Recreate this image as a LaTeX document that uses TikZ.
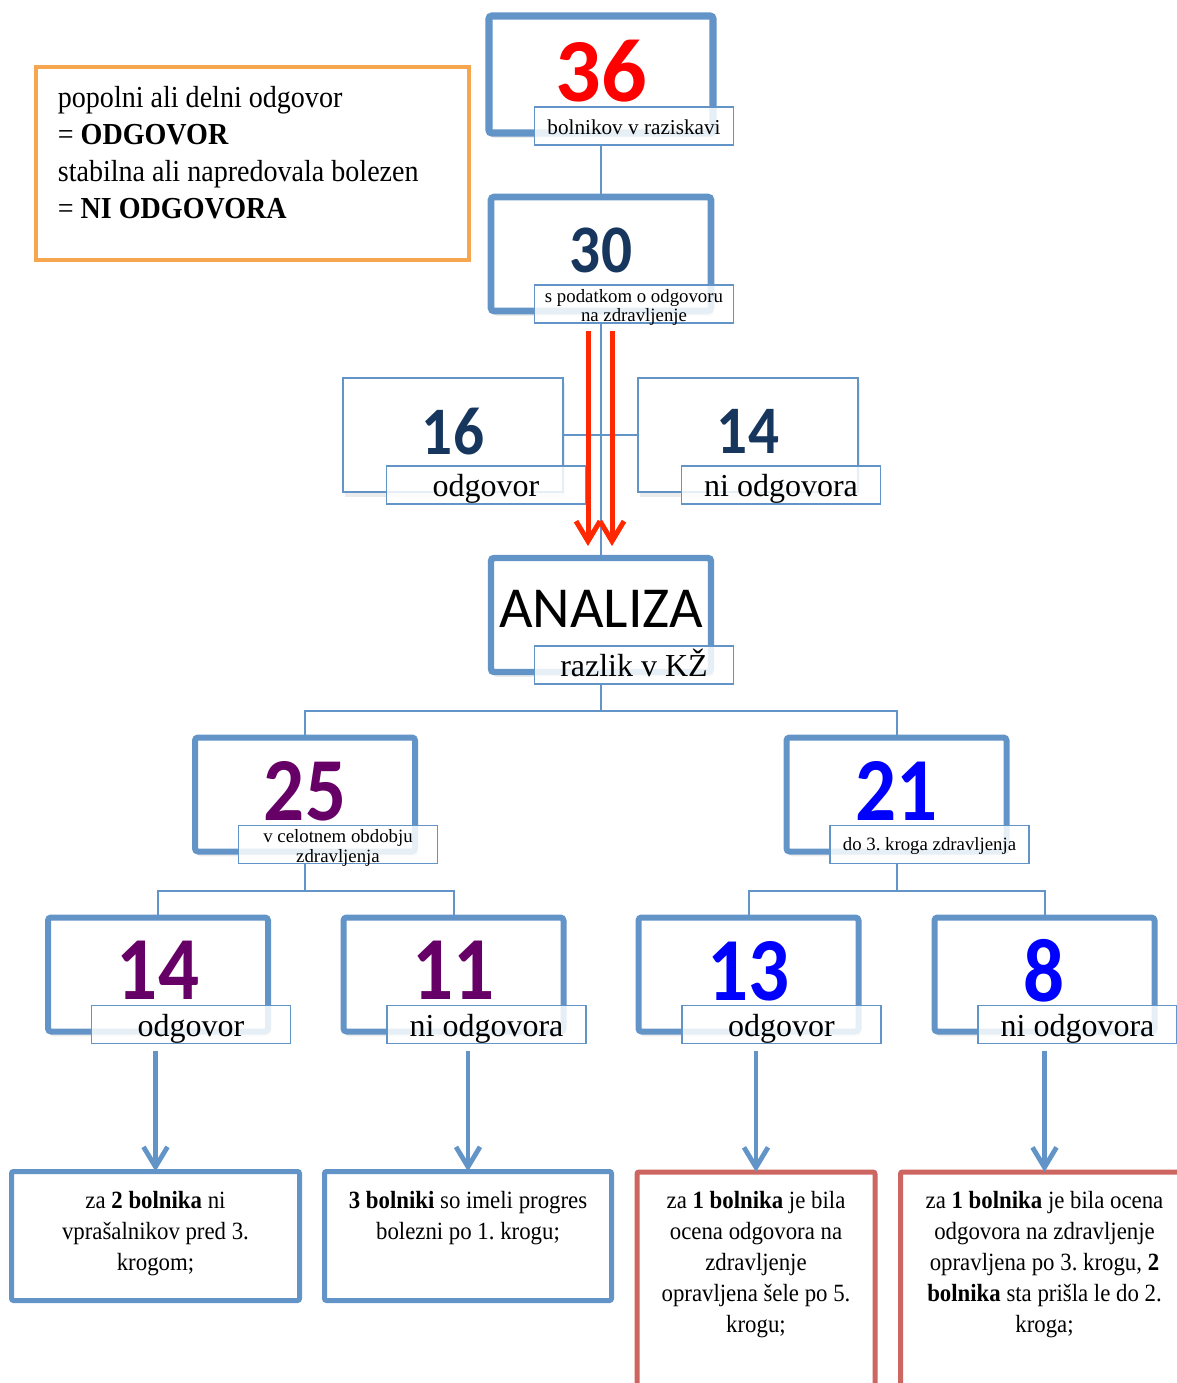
\documentclass[tikz,border=0pt]{standalone}
\usepackage{fontspec}
\setmainfont{Liberation Serif}
\newfontfamily\numfont{Carlito}
\newfontfamily\numfontc[FakeStretch=0.9]{Carlito}
\newfontfamily\condfont[FakeStretch=0.92]{Liberation Serif}
\usetikzlibrary{arrows.meta, calc, shadows}
\frenchspacing

\definecolor{boxblue}{RGB}{98,148,200}
\definecolor{numnavy}{RGB}{23,54,93}
\definecolor{numpurple}{RGB}{102,0,102}
\definecolor{numblue}{RGB}{0,0,255}
\definecolor{numred}{RGB}{255,0,0}
\definecolor{arrred}{RGB}{255,40,0}
\definecolor{legorange}{RGB}{247,166,80}
\definecolor{notered}{RGB}{205,102,96}

\newcommand\numhuge{\numfont\bfseries\fontsize{45}{45}\selectfont}
\newcommand\nummid{\numfontc\bfseries\fontsize{34}{34}\selectfont}
\newcommand\numbig{\numfontc\bfseries\fontsize{45}{45}\selectfont}

\begin{document}
\begin{tikzpicture}[
  x=0.5pt, y=-0.5pt,
  numbox/.style={draw=boxblue, line width=3.2pt, fill=white, rounded corners=1.5pt,
                 minimum width=110pt, minimum height=57pt, inner sep=0pt, outer sep=0pt,
                 text depth=4pt, font=\numbig,
                 drop shadow={opacity=0.15, shadow xshift=1.2pt, shadow yshift=-2.4pt}},
  thinbox/.style={numbox, line width=1.3pt, rounded corners=0pt, font=\nummid},
  lbl/.style={draw=boxblue, line width=0.8pt, fill=white, fill opacity=0.85, text opacity=1,
              minimum width=99.5pt, minimum height=19pt, inner sep=0pt, outer sep=0pt,
              align=center, text height=8.5pt, text depth=2.3pt,
              font=\fontsize{10.6}{11}\selectfont},
  biglbl/.style={lbl, text height=15pt, text depth=3.5pt, font=\fontsize{16}{16}\selectfont},
  smalllbl/.style={lbl, text height=17.5pt, text depth=0pt, font=\fontsize{9.4}{9.6}\selectfont},
  conn/.style={draw=boxblue, line width=1pt},
  redarr/.style={draw=arrred, line width=2.5pt, -{Straight Barb[length=10pt,width=12pt]}},
  bluearr/.style={draw=boxblue, line width=2.4pt, -{Straight Barb[length=10pt,width=12pt]}},
  notebox/.style={draw=#1, line width=2.5pt, rounded corners=1pt, fill=white,
                  minimum width=144pt, minimum height=64.5pt, outer sep=0pt},
  notetext/.style={anchor=north, inner sep=0pt, align=center,
                   font=\condfont\fontsize{12.4}{15.5}\selectfont},
  legend/.style={draw=legorange, line width=2pt, minimum width=216.5pt,
                 minimum height=96.5pt, outer sep=0pt},
  legendtext/.style={anchor=north west, inner sep=0pt, align=left,
                     font=\condfont\fontsize{15.25}{18.5}\selectfont},
]
\useasboundingbox (0,0) rectangle (1177,1383);
\clip (0,0) rectangle (1177,1383);
\fill[white] (0,0) rectangle (1177,1383);

% legend
\node[legend] (legend) at (252,163) {};
\node[legendtext] (legendtext) at ($(legend.north west)+(22,19)$)
  {popolni ali delni odgovor\\
   = \textbf{ODGOVOR}\\
   stabilna ali napredovala bolezen\\
   = \textbf{NI ODGOVORA}};

% top of the tree
\node[numbox, minimum width=112pt, minimum height=58.5pt, line width=3.6pt,
      font=\numhuge, text=numred] (n36) at (601,74.5) {36};
\node[lbl, text height=8pt, text depth=0pt] (l36) at ($(n36.south)+(33,-7)$) {bolnikov v raziskavi};

\node[numbox, line width=3.3pt, font=\nummid, text=numnavy] (n30) at (601,254) {30};
\node[smalllbl] (l30) at ($(n30.south)+(33,-7)$) {s podatkom o odgovoru\\na zdravljenje};

\draw[conn] (l36.south -| n36.south) -- (n30.north);
\draw[conn] (l30.south -| n30.south) -- (601,558);

\node[thinbox, text=numnavy] (n16) at (453,435) {16};
\node[biglbl] (l16) at ($(n16.south)+(33,-7)$) {odgovor};
\node[thinbox, text=numnavy] (n14a) at (748,435) {14};
\node[biglbl] (l14a) at ($(n14a.south)+(33,-7)$) {ni odgovora};
\draw[conn] (n16.east) -- (n14a.west);

\node[numbox, text depth=6pt, font=\numfont\fontsize{29}{29}\selectfont] (nA) at (601,615) {ANALIZA};
\node[biglbl] (lA) at ($(nA.south)+(33,-7)$) {razlik v KŽ};

\draw[redarr] ($(l30.south -| n30.south)+(-13,8)$) -- ($(nA.north)+(-13,-12)$);
\draw[redarr] ($(l30.south -| n30.south)+(11,8)$) -- ($(nA.north)+(11,-12)$);

% second level
\node[numbox, line width=3pt, text=numpurple] (n25) at (305,794.5) {25};
\node[smalllbl] (l25) at ($(n25.south)+(33,-7)$) {v celotnem obdobju\\zdravljenja};
\node[numbox, line width=3pt, text=numblue] (n21) at (896.5,794.5) {21};
\node[lbl, text height=8pt, text depth=2pt, font=\fontsize{9.4}{9.6}\selectfont] (l21)
  at ($(n21.south)+(33,-7)$) {do 3. kroga zdravljenja};

\draw[conn] (lA.south -| nA.south) -- ++(0,27) -| (n25.north);
\draw[conn] (lA.south -| nA.south) -- ++(0,27) -| (n21.north);

% third level
\node[numbox, line width=3pt, text=numpurple] (n14b) at (158,974.5) {14};
\node[biglbl] (l14b) at ($(n14b.south)+(33,-7)$) {odgovor};
\node[numbox, line width=3pt, text=numpurple] (n11) at (453.5,974.5) {11};
\node[biglbl] (l11) at ($(n11.south)+(33,-7)$) {ni odgovora};
\node[numbox, line width=3pt, text=numblue] (n13) at (748.5,974.5) {13};
\node[biglbl] (l13) at ($(n13.south)+(33,-7)$) {odgovor};
\node[numbox, line width=3pt, text=numblue] (n8) at (1044.5,974.5) {8};
\node[biglbl] (l8) at ($(n8.south)+(33,-7)$) {ni odgovora};

\draw[conn] (l25.south -| n25.south) -- ++(0,27) -| (n14b.north);
\draw[conn] (l25.south -| n25.south) -- ++(0,27) -| (n11.north);
\draw[conn] (l21.south -| n21.south) -- ++(0,27) -| (n13.north);
\draw[conn] (l21.south -| n21.south) -- ++(0,27) -| (n8.north);

% notes at the bottom
\node[notebox=boxblue] (b1) at (155.5,1236) {};
\node[notebox=boxblue, minimum width=143.5pt] (b2) at (468,1236) {};
\node[notebox=notered, minimum width=119pt, minimum height=130pt] (b3) at (756,1302) {};
\node[notebox=notered, minimum height=130pt] (b4) at (1044.5,1302) {};

\node[notetext] (t1) at ($(b1.north)+(0,19)$)
  {za \textbf{2 bolnika} ni\\vprašalnikov pred 3.\\krogom;};
\node[notetext] (t2) at ($(b2.north)+(0,19)$)
  {\textbf{3 bolniki} so imeli progres\\bolezni po 1. krogu;};
\node[notetext] (t3) at ($(b3.north)+(0,19)$)
  {za \textbf{1 bolnika} je bila\\ocena odgovora na\\zdravljenje\\opravljena šele po 5.\\krogu;};
\node[notetext] (t4) at ($(b4.north)+(0,19)$)
  {za \textbf{1 bolnika} je bila ocena\\odgovora na zdravljenje\\opravljena po 3. krogu, \textbf{2}\\\textbf{bolnika} sta prišla le do 2.\\kroga;};

\draw[bluearr] ($(l14b.south -| b1.north)+(0,7)$) -- (b1.north);
\draw[bluearr] ($(l11.south -| b2.north)+(0,7)$) -- (b2.north);
\draw[bluearr] ($(l13.south -| b3.north)+(0,7)$) -- (b3.north);
\draw[bluearr] ($(l8.south -| b4.north)+(0,7)$) -- (b4.north);
\end{tikzpicture}
\end{document}
